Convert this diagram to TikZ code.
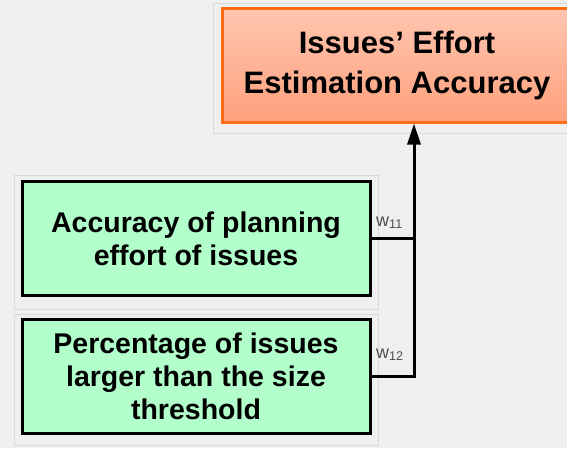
\documentclass[tikz,border=0pt]{standalone}
\usepackage{fontspec}
\setmainfont{Liberation Sans}
\usetikzlibrary{arrows.meta}
\definecolor{mint}{RGB}{178,255,204}
\definecolor{peach}{RGB}{255,198,176}
\definecolor{salmon}{RGB}{255,160,124}
\definecolor{tangerine}{RGB}{255,108,20}
\definecolor{paper}{RGB}{239,239,239}
\begin{document}
\begin{tikzpicture}[x=1pt, y=-1pt,
    metric/.style={draw=black, line width=3pt, fill=mint, align=center,
      minimum width=348pt, minimum height=114pt,
      font=\fontsize{28.5}{33}\selectfont\bfseries},
    goalbox/.style={draw=tangerine, line width=3pt, top color=peach, bottom color=salmon,
      align=center, minimum width=350pt, minimum height=114pt,
      font=\fontsize{31}{40}\selectfont\bfseries},
    frame/.style={draw=gray!30, line width=0.8pt},
    weight/.style={text=gray!60!black, inner sep=0pt, font=\fontsize{18}{18}\selectfont},
    link/.style={line width=3pt, line join=miter}]
    \useasboundingbox[fill=paper] (0,0) rectangle (567,448);
    \clip (0,0) rectangle (567,448);

    % faint frames round the boxes
    \draw[frame] (213,3) rectangle (580,133);
    \draw[frame] (14,175) rectangle (378,309);
    \draw[frame] (14,314) rectangle (378,445);

    \node[goalbox] (goal) at (397,65) {Issues' Effort\\Estimation Accuracy};
    \node[metric] (plan) at (196,238.5) {Accuracy of planning\\effort of issues};
    \node[metric] (size) at (196,376.5) {Percentage of issues\\larger than the size\\threshold};

    \coordinate (join) at (414,376.5);
    \draw[link] (plan.east) -- (plan.east -| join);
    \draw[link, -{Triangle[width=13pt,length=21pt]}] (size.east) -- (join) -- (join |- goal.south);

    \node[weight, anchor=base west] (w11) at (376,226) {w\textsubscript{11}};
    \node[weight, anchor=base west] (w12) at (376,358) {w\textsubscript{12}};
  \end{tikzpicture}
\end{document}
